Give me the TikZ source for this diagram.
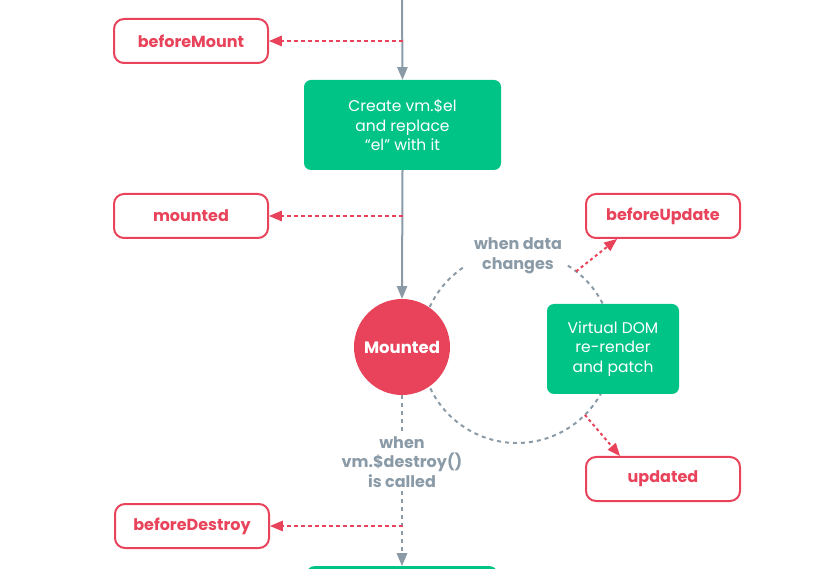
\documentclass[tikz,border=0pt]{standalone}
\usepackage{fontspec}
\setmainfont{Poppins}
\usetikzlibrary{arrows,positioning,calc}
\definecolor{hookred}{HTML}{E8435A}
\definecolor{stepgreen}{HTML}{00C386}
\definecolor{flowgray}{HTML}{8A9BA7}

\begin{document}
\begin{tikzpicture}[x=1pt,y=-1pt]
    \tikzstyle{every node}=[font=\fontsize{15.5}{19.5}\selectfont]
    \tikzstyle{hook}=[draw=hookred, line width=2pt, fill=white, rounded corners=10pt, minimum width=154pt, minimum height=44pt, text=hookred, font=\fontsize{16}{19}\selectfont\bfseries]
    \tikzstyle{stepbox}=[fill=stepgreen, rounded corners=7pt, text=white, align=center, inner sep=0pt]
    \tikzstyle{note}=[text=flowgray, align=center, font=\fontsize{16}{19.5}\selectfont\bfseries]
    \tikzstyle{flow}=[flowgray, line width=2pt, -triangle 45]
    \tikzstyle{flowdots}=[flowgray, line width=2pt, dash pattern=on 4pt off 4pt]
    \tikzstyle{hookline}=[hookred, line width=2pt, dash pattern=on 4pt off 3pt, -triangle 45]
    \tikzstyle{hookdots}=[hookred, line width=2pt, dash pattern=on 3pt off 3pt, -triangle 45]
    \useasboundingbox (0,0) rectangle (828,569);

     % update loop round the mounted state
     \coordinate (loop) at (517,347);
     \draw[flowdots] (loop) ++(-58:96) arc[start angle=-58, end angle=238, radius=96];

     % main column
     \coordinate (top) at (402,0);
     \node[stepbox, minimum width=197pt, minimum height=90pt] (create) at (402.5,125) {Create vm.\$el\\and replace\\“el” with it};
     \node[circle, fill=hookred, minimum size=96pt, inner sep=0pt, text=white, font=\fontsize{16.5}{19}\selectfont\bfseries] (mounted) at (402,347) {Mounted};
     \node[note] (destroynote) at (402,462) {when\\vm.\$destroy()\\is called};
     \node[stepbox, minimum width=190pt, minimum height=60pt, anchor=north] (teardown) at (402,566) {};

     \node[hook] (beforeMount) at (191,41) {beforeMount};
     \node[hook] (mountedhook) at (191,216) {mounted};
     \node[hook] (beforeDestroy) at (192,526) {beforeDestroy};

     % update side
     \node[note] (datanote) at (518,256) {when data\\changes};
     \node[stepbox, minimum width=132pt, minimum height=90pt] (rerender) at (613,349) {Virtual DOM\\re-render\\and patch};
     \node[hook] (beforeUpdate) at (663,216) {beforeUpdate};
     \node[hook] (updated) at (663,479) {updated};

     \draw[flow] (top) -- (create.north);
     \draw[flow] (create.south) -- (mounted.north);
     \draw[flowdots] (mounted.south) -- (destroynote.north);
     \draw[flowdots, -triangle 45] (destroynote.south) -- (teardown.north);

     \draw[hookline] (beforeMount.east -| create) -- (beforeMount.east);
     \draw[hookline] (mountedhook.east -| create) -- (mountedhook.east);
     \draw[hookline] (beforeDestroy.east -| create) -- (beforeDestroy.east);

     \coordinate (upfrom) at ($(loop)+(-52:96)$);
     \coordinate (downfrom) at ($(loop)+(45:96)$);
     \draw[hookdots] (upfrom) -- ([xshift=-46pt]beforeUpdate.south);
     \draw[hookdots] (downfrom) -- ([xshift=-43pt]updated.north);
\end{tikzpicture}
\end{document}
